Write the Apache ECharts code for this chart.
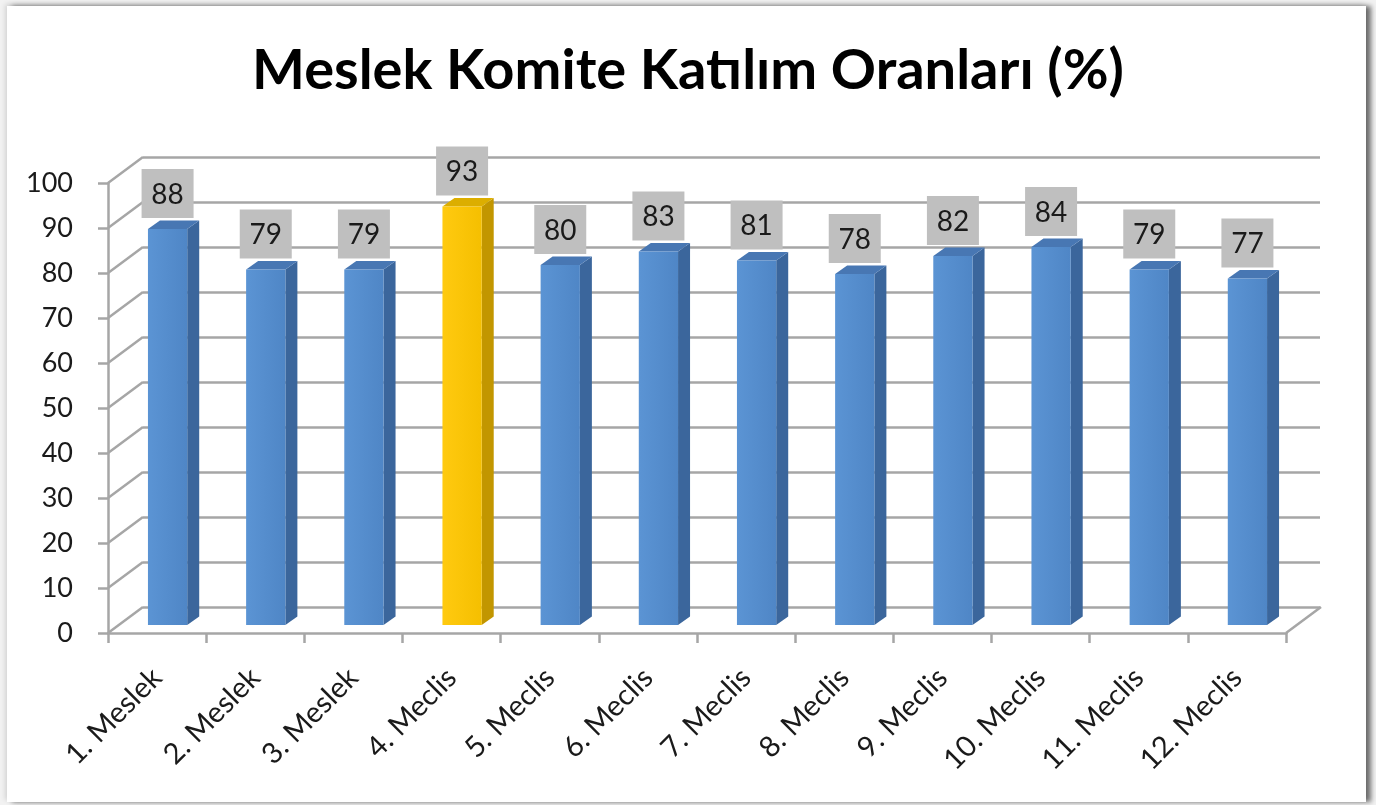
<!DOCTYPE html>
<html>
<head>
<meta charset="utf-8">
<script src="https://cdn.jsdelivr.net/npm/echarts@6/dist/echarts.min.js"></script>
<style>
  html, body { margin: 0; padding: 0; background: #f2f2f2; }
  #card {
    position: absolute; left: 7px; top: 6px; width: 1359px; height: 796px;
    background: #fff;
    box-shadow: -2px -2px 5px rgba(0,0,0,0.12), 5px 0 5px rgba(0,0,0,0.55);
  }
  #main { position: absolute; left: 0; top: 0; width: 1376px; height: 805px; }
</style>
</head>
<body>
<div id="card"></div>
<div id="main"></div>
<script>
// kategoriler ve oranlar
var categories = ['1. Meslek', '2. Meslek', '3. Meslek', '4. Meclis', '5. Meclis', '6. Meclis',
                  '7. Meclis', '8. Meclis', '9. Meclis', '10. Meclis', '11. Meclis', '12. Meclis'];
var values = [88, 79, 79, 93, 80, 83, 81, 78, 82, 84, 79, 77];
var yTicks = [0, 10, 20, 30, 40, 50, 60, 70, 80, 90, 100];
var highlightIndex = 3;

var FONT = 'Lato';
var GRID_COLOR = '#a6a6a6';
var DEPTH_X = 35, DEPTH_Y = -26;   // yan duvar derinligi

var myChart = echarts.init(document.getElementById('main'), null, {renderer: 'canvas'});

function renderWall(params, api) {
    var v = api.value(0);
    var p = api.coord([0, v]);
    var x0 = params.coordSys.x;
    var children = [{
        type: 'line',
        shape: {x1: x0, y1: p[1], x2: x0 + DEPTH_X, y2: p[1] + DEPTH_Y},
        style: {stroke: GRID_COLOR, lineWidth: 2.5}
    }];
    if (v === 0) {
        var xr = x0 + params.coordSys.width;
        children.push({
            type: 'line',
            shape: {x1: xr, y1: p[1], x2: xr + DEPTH_X, y2: p[1] + DEPTH_Y},
            style: {stroke: GRID_COLOR, lineWidth: 2.5}
        });
    }
    return {type: 'group', children: children};
}

function renderBar(params, api) {
    var i = api.value(0);
    var v = api.value(1);
    var top = api.coord([i, v]);
    var base = api.coord([i, 0]);
    var band = api.size([1, 0])[0];
    var w = band * 0.4;
    var cx = top[0] + 10.5;
    var yTop = top[1] - 8;
    var yBot = base[1] - 8;
    var xl = cx - w / 2, xr = cx + w / 2;
    var dx = 12, dy = -8.5;
    var hi = i === highlightIndex;
    var front = hi ? new echarts.graphic.LinearGradient(0, 0, 1, 0, [
            {offset: 0, color: '#ffca10'}, {offset: 1, color: '#f5bf00'}])
        : new echarts.graphic.LinearGradient(0, 0, 1, 0, [
            {offset: 0, color: '#5b94d4'}, {offset: 1, color: '#4f86c6'}]);
    var side = hi ? '#c29600' : '#3b669c';
    var topc = hi ? '#dcae00' : '#4877b3';
    var boxW = 52, boxH = 49;
    var boxBottom = yTop - 11;
    return {
        type: 'group',
        children: [
            {type: 'polygon', shape: {points: [[xr, yTop], [xr + dx, yTop + dy], [xr + dx, yBot + dy], [xr, yBot]]},
             style: {fill: side}},
            {type: 'polygon', shape: {points: [[xl, yTop], [xl + dx, yTop + dy], [xr + dx, yTop + dy], [xr, yTop]]},
             style: {fill: topc}},
            {type: 'rect', shape: {x: xl, y: yTop, width: w, height: yBot - yTop},
             style: {fill: front}},
            {type: 'rect', shape: {x: cx - boxW / 2, y: boxBottom - boxH, width: boxW, height: boxH},
             style: {fill: '#bfbfbf'}},
            {type: 'text', x: cx, y: boxBottom - boxH / 2 + 1,
             style: {text: String(v), fill: '#1a1a1a', font: '28px ' + FONT,
                     align: 'center', verticalAlign: 'middle'}}
        ]
    };
}

var option = {
    animation: false,
    title: {
        text: 'Meslek Komite Katılım Oranları (%)',
        left: 'center',
        top: 38,
        textStyle: {fontFamily: FONT, fontWeight: 'bold', fontSize: 56, color: '#000'}
    },
    grid: [
        {left: 108, right: 90, top: 183, bottom: 172},
        {left: 143, right: 56, top: 157, bottom: 198}
    ],
    xAxis: [
        {
            type: 'category', gridIndex: 0, data: categories,
            axisLine: {lineStyle: {color: GRID_COLOR, width: 2.5}},
            axisTick: {show: true, length: 10, interval: 0, lineStyle: {color: GRID_COLOR, width: 2.5}},
            axisLabel: {interval: 0, rotate: 45, margin: 40, fontFamily: FONT, fontSize: 29, color: '#1a1a1a'}
        },
        {type: 'category', gridIndex: 1, data: categories, show: false}
    ],
    yAxis: [
        {
            type: 'value', gridIndex: 0, min: 0, max: 100, interval: 10,
            axisLine: {show: true, lineStyle: {color: GRID_COLOR, width: 2.5}},
            axisTick: {show: true, length: 10, lineStyle: {color: GRID_COLOR, width: 2.5}},
            axisLabel: {margin: 35, fontFamily: FONT, fontSize: 27, color: '#1a1a1a'},
            splitLine: {show: false}
        },
        {
            type: 'value', gridIndex: 1, min: 0, max: 100, interval: 10,
            axisLine: {show: false}, axisTick: {show: false}, axisLabel: {show: false},
            splitLine: {show: true, lineStyle: {color: GRID_COLOR, width: 2.5}}
        }
    ],
    series: [
        {
            type: 'custom', xAxisIndex: 0, yAxisIndex: 0,
            renderItem: renderWall,
            data: yTicks.map(function (t) { return [t]; }),
            z: 1, silent: true
        },
        {
            type: 'custom', xAxisIndex: 0, yAxisIndex: 0,
            renderItem: renderBar,
            data: values.map(function (v, i) { return [i, v]; }),
            encode: {x: 0, y: 1},
            z: 3
        }
    ]
};
myChart.setOption(option, true);
</script>
</body>
</html>
